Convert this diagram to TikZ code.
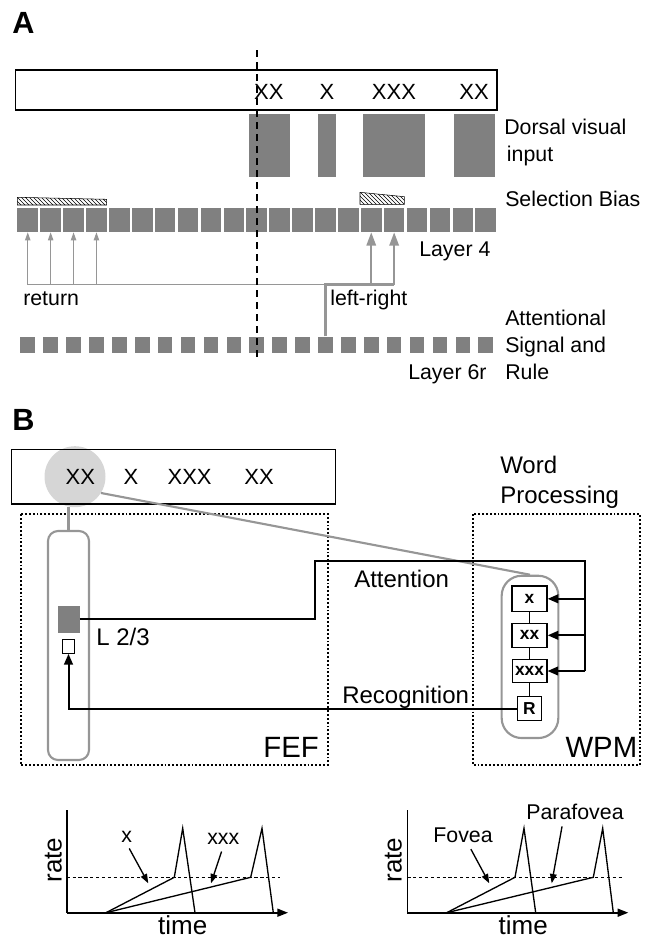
\documentclass[tikz,border=0pt]{standalone}
\usepackage{fontspec}
\setmainfont{Liberation Sans}
\usetikzlibrary{positioning,arrows.meta,patterns}
\definecolor{blockgray}{RGB}{128,128,128}
\definecolor{wiregray}{RGB}{150,150,150}
\definecolor{spotgray}{RGB}{214,214,214}
\newcommand{\lblA}{\fontsize{16}{20}\selectfont}
\newcommand{\lblB}{\fontsize{18}{22.5}\selectfont}

\begin{document}
\begin{tikzpicture}[x=0.75pt,y=-0.75pt,
  strip/.style={draw=black,line width=1pt},
  letters/.style={font=\fontsize{16.5}{19}\selectfont,inner sep=0pt,anchor=base},
  lbl/.style={font=\lblA,inner sep=0pt,anchor=base west,align=left},
  lblb/.style={font=\lblB,inner sep=0pt,anchor=base west,align=left},
  big/.style={font=\fontsize{22}{26}\selectfont,inner sep=0pt,anchor=base east},
  panel/.style={font=\fontsize{23}{26}\selectfont\bfseries,inner sep=0pt,anchor=base west},
  l4sq/.style={fill=blockgray,inner sep=0pt,minimum width=15.4pt,minimum height=18pt},
  l6sq/.style={fill=blockgray,inner sep=0pt,minimum width=11pt,minimum height=12.4pt},
  thinarr/.style={wiregray,line width=0.8pt,-{Triangle[length=6pt,width=4pt]}},
  thickarr/.style={wiregray,line width=1.6pt,-{Triangle[length=10pt,width=7pt]}},
  bias/.style={draw=black,line width=0.4pt,pattern=north west lines},
  fix/.style={black,line width=2.2pt,dash pattern=on 5.5pt off 3.5pt},
  area/.style={draw=black,line width=1.4pt,dash pattern=on 1.4pt off 1.5pt},
  column/.style={draw=wiregray,line width=1.6pt,inner sep=0pt},
  unit/.style={draw=black,line width=1pt,fill=white,inner sep=0pt,font=\fontsize{13}{15}\selectfont\bfseries},
  sig/.style={black,line width=1.5pt},
  sigarr/.style={sig,-{Triangle[length=8pt,width=6.5pt]}},
  gline/.style={wiregray,line width=1.6pt},
  axis/.style={black,line width=1.2pt},
  trace/.style={black,line width=1pt},
  thresh/.style={black,line width=0.7pt,dash pattern=on 2.4pt off 2pt},
  glbl/.style={font=\fontsize{16}{19}\selectfont,inner sep=1pt,anchor=base},
  gaxis/.style={font=\fontsize{19.5}{23}\selectfont,inner sep=0pt},
  pointer/.style={black,line width=1pt,shorten <=4pt,-{Triangle[length=7pt,width=5pt]}}
]
\useasboundingbox (0,0) rectangle (652,940);

\node[panel] (labA) at (12,33.3) {A};
\draw[strip] (15.8,70) rectangle (497,110);
\foreach \xp/\word [count=\k] in {268.75/XX,327/X,394/XXX,474/XX}
  \node[letters] (wordA\k) at (\xp,99.3) {\word};
\foreach \xa/\xb in {249/290,317.5/336,363/425,454/495}
  \fill[blockgray] (\xa,114.3) rectangle (\xb,176.7);
\node[lbl] (dorsal) at (504,161) {Dorsal visual\\\hspace{2pt}input};
\node[lbl] (bias) at (505,206) {Selection Bias};
\draw[bias] (17.3,205) -- (17.3,197.3) -- (106.7,199.3) -- (106.7,205) -- cycle;
\draw[bias] (360,204.3) -- (360,192.3) -- (404.3,196.7) -- (404.3,204.3) -- cycle;
\foreach \i in {0,...,20} {
  \node[l4sq] (L4-\i) at ({27.75+22.9*\i},220) {};
  \node[l6sq] (L6-\i) at ({27.75+22.9*\i},345) {};
}
\node[lbl] (lay4) at (419,256) {Layer 4};
\coordinate (route) at (0,284.5);
\foreach \i in {0,...,3}
  \draw[thinarr] (L4-\i.south |- route) -- (L4-\i.south);
\draw[wiregray,line width=0.8pt] (L4-0.south |- route) -- (L6-13.north |- route);
\draw[wiregray,line width=1.6pt] (L6-13.north) -- (L6-13.north |- route) -- (L4-16.south |- route);
\foreach \i in {15,16}
  \draw[thickarr] (L4-\i.south |- route) -- (L4-\i.south);
\node[lbl] (ret) at (23,305) {return};
\node[lbl] (lr) at (330,305) {left-right};
\node[lbl] (att) at (505,379.3) {Attentional\\Signal and\\Rule};
\node[lbl] (lay6) at (408,379.3) {Layer 6r};
\draw[fix] (257,50) -- (257,358);

\node[panel] (labB) at (12,430) {B};
\node[circle,fill=spotgray,inner sep=0pt,minimum size=45.75pt] (spot) at (75,476.7) {};
\draw[strip] (11.7,449.3) rectangle (335.4,504);
\foreach \xp/\word [count=\k] in {80.4/XX,131/X,189.6/XXX,259/XX}
  \node[letters] (wordB\k) at (\xp,484.3) {\word};
\node[lblb] (wp) at (500,503.6) {Word\\Processing};
\draw[area] (20.8,514.3) rectangle (328,765);
\draw[area] (473,514.3) rectangle (639.6,765);
\node[column,rounded corners=7.5pt,minimum width=30.75pt,minimum height=171.75pt] (fefcol) at (68.5,645.5) {};
\node[fill=blockgray,inner sep=0pt,minimum width=16.5pt,minimum height=20pt] (l23) at (68.5,619.3) {};
\node[draw=black,line width=0.8pt,fill=white,inner sep=0pt,minimum width=8.4pt,minimum height=10.5pt] (cell) at (68.5,646.3) {};
\node[lblb] (l23lbl) at (96,645.3) {L 2/3};
\node[column,rounded corners=15pt,minimum width=42.5pt,minimum height=121.7pt] (wpmcol) at (530,656.9) {};
\node[unit,minimum width=26.25pt,minimum height=19.3pt] (wx1) at (529.5,598.8) {x};
\node[unit,minimum width=26.25pt,minimum height=18pt] (wx2) at (529.5,635.3) {xx};
\node[unit,minimum width=26pt,minimum height=17.5pt] (wx3) at (529.5,671) {xxx};
\node[unit,minimum width=18.3pt,minimum height=18pt] (wr) at (529.5,708.7) {R};
\draw[line width=0.8pt] (wx1) -- (wx2) -- (wx3) -- (wr);
\draw[gline] (fefcol.north) -- (fefcol.north |- spot.south);
\draw[gline] (spot.-32) -- (wpmcol.north);
\coordinate (attup) at (314.6,560.7);
\coordinate (attright) at (585,560.7);
\draw[sig] (l23.east) -| (attup) -- (attright) -- (attright |- wx3.east);
\foreach \n in {wx1,wx2,wx3}
  \draw[sigarr] (attright |- \n.east) -- (\n.east);
\draw[sigarr] (wr.west) -| (cell.south);
\node[lblb] (attn) at (354,587) {Attention};
\node[lblb] (recog) at (342,703.6) {Recognition};
\node[big] (fef) at (319,757.2) {FEF};
\node[big] (wpm) at (637.5,757.2) {WPM};

\coordinate (g1o) at (66.7,912.7);
\draw[axis] (66.7,810) -- (g1o);
\draw[axis,-{Triangle[length=8pt,width=6pt]}] (g1o) -- (288,912.7);
\draw[thresh] (66.7,877.3) -- (280,877.3);
\draw[trace] (106,912.7) -- (174.3,877.3) -- (182.7,828.3) -- (195,912.7);
\draw[trace] (106,912.7) -- (250.7,877.3) -- (262,828.3) -- (273.3,912.7);
\node[glbl] (gx) at (126.7,842.2) {x};
\node[glbl] (gxxx) at (223.3,844.8) {xxx};
\coordinate (gxtip) at (148.3,883.3);
\coordinate (gxxxtip) at (211,883.3);
\draw[pointer] (gx.south) -- (gxtip);
\draw[pointer] (gxxx.south) -- (gxxxtip);
\node[gaxis,rotate=90] (rate1) at (53.3,860) {rate};
\node[gaxis,anchor=base] (time1) at (182.7,934) {time};

\coordinate (g2o) at (407.3,912.7);
\draw[axis] (407.3,810) -- (g2o);
\draw[axis,-{Triangle[length=8pt,width=6pt]}] (g2o) -- (628.3,912.7);
\draw[thresh] (407.3,877.3) -- (621.7,877.3);
\draw[trace] (446.7,912.7) -- (515,877.3) -- (524,828.3) -- (535.7,912.7);
\draw[trace] (446.7,912.7) -- (593.3,877.3) -- (602.7,828.3) -- (613.3,912.7);
\node[glbl] (gfov) at (463,842.6) {Fovea};
\node[glbl] (gpar) at (575,819.3) {Parafovea};
\coordinate (gfovtip) at (489.3,883.3);
\coordinate (gpartip) at (551.7,883.3);
\draw[pointer] ([xshift=4pt]gfov.south) -- (gfovtip);
\draw[pointer] ([xshift=-9pt]gpar.south) -- (gpartip);
\node[gaxis,rotate=90] (rate2) at (393.3,860) {rate};
\node[gaxis,anchor=base] (time2) at (523.3,934) {time};
\end{tikzpicture}
\end{document}
